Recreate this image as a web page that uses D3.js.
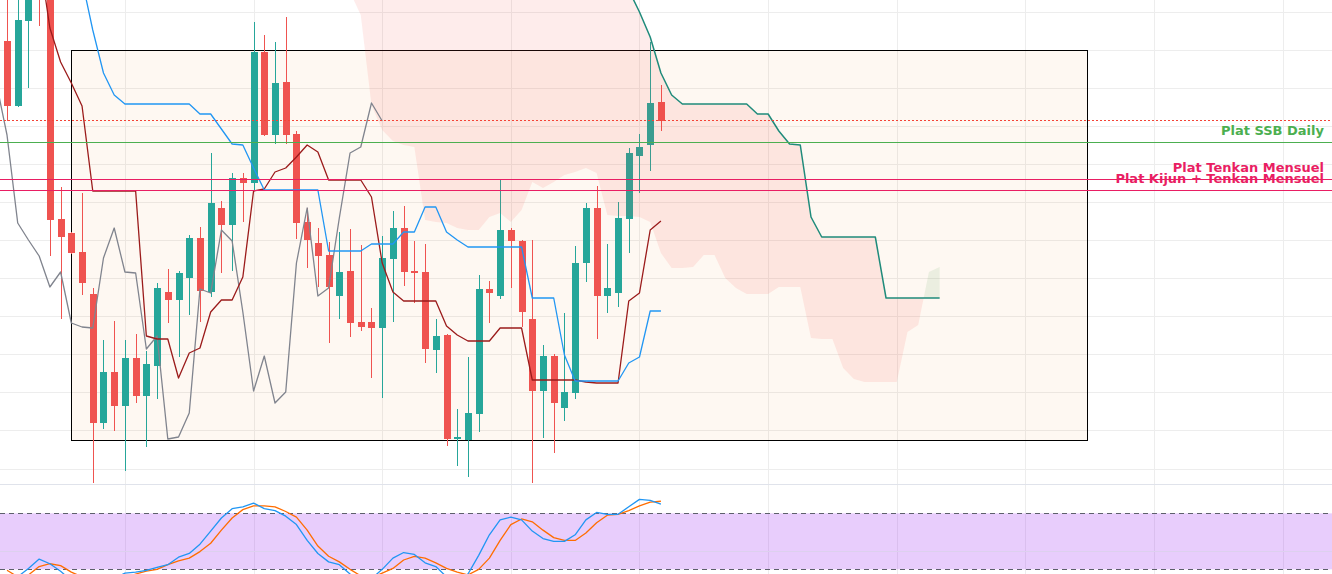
<!DOCTYPE html>
<html>
<head>
<meta charset="utf-8">
<script src="https://cdn.jsdelivr.net/npm/d3@7"></script>
<style>
  body { margin: 0; background: #fff; overflow: hidden; }
</style>
</head>
<body>
<svg id="chart" width="1332" height="574"></svg>
<script>
// price bars, bar index 0 = first bar on screen
const opens  = [459,394,479,515,505,281,267,248,206,77,128,94,142,104,134,208,200,222,262,208,292,275,322,317,448,365,418,366,278,257,245,204,229,178,178,172,241,272,229,228,150,165,61,60,86,211,204,270,259,181,109,144,92,107,237,292,204,207,281,344,355,398];
const highs  = [515,510,520,525,512,313,268,307,212,160,179,160,166,149,217,231,229,265,273,347,299,327,327,478,465,458,483,369,292,272,258,268,271,255,192,264,289,294,259,256,181,166,91,143,225,219,320,272,260,260,155,146,187,254,297,314,256,298,352,366,458,415];
const lows   = [379,393,412,474,244,181,246,205,17,71,69,29,97,53,101,177,143,185,178,203,227,229,278,310,364,356,356,261,232,213,157,181,163,169,122,102,178,214,197,137,127,54,34,23,68,177,201,212,173,17,62,47,79,101,218,161,187,193,247,307,329,369];
const closes = [394,480,508,505,280,263,247,217,77,128,94,142,104,136,212,200,227,262,209,297,275,322,317,448,365,417,365,277,260,244,213,228,177,173,172,242,272,228,227,151,164,61,63,87,211,207,270,259,188,109,144,97,108,237,292,204,212,282,347,353,397,379];

// ichimoku
const kijun = [null,null,null,null,null,null,null,
  520,470,427,405,396,396,396,396,396,396,396,386,386,371,356,355,332,
  310,310,310,310,310,310,249,249,249,249,256,256,256,268,268,293,293,268,260,
  253,253,253,253,253,253,202,202,202,145,119,119,119,119,119,137,143,189,189];
const tenkan = [null,null,null,
  545,472,438,417,394,309,309,309,309,309,164,161,161,122,147,152,188,200,200,223,
  309,311,328,332,343,355,348,320,320,320,320,303,237,208,199,199,199,199,174,165,
  159,159,159,172,172,172,120,120,120,120,120,118,117,117,117,199,207,270,279];
const chikouShift = 26;
const cloudStart = 31;
const spanA = [540,508,485,395,370,359,355,353,280,278,277,272,270,270,283,287,278,290,318,312,318,325,328,332,327,
  285,284,284,283,278,247,232,232,233,245,245,222,212,206,206,206,213,213,213,162,161,161,132,121,118,118,118,118,168,175,228,233];
const spanB = [580,580,580,580,580,580,580,580,580,580,580,580,580,580,580,580,580,580,580,580,580,580,580,580,580,
  560,540,510,488,463,427,405,396,396,396,396,396,396,396,386,386,369,356,355,283,263,263,263,263,263,263,202,202,202,202,202,202];

// stochastic
const stochK = [8,12,21,31,26,18,8,5,3,5,10,16,17,19,22,25,33,37,47,61,75,85,87,91,85,83,77,68,51,37,28,25,15,8,10,20,32,38,36,27,23,12,5,15,35,57,73,76,73,61,53,50,50,57,73,81,79,79,87,95,94,90];
const stochD = [19,12,14,23,26,24,17,12,7,5,6,10,15,18,20,25,29,32,39,48,62,75,84,88,88,87,82,76,62,45,34,28,20,13,11,16,21,30,34,32,27,21,17,14,20,32,51,68,74,71,62,54,51,51,59,70,78,79,83,88,92,93];
const stochBand = [20, 80];
const stochGrid = [40];

// drawings
const hLines = [
  { price: 380, color: "#f44336", dash: "1.5,2.5", label: "" },
  { price: 358, color: "#4caf50", dash: null, label: "Plat SSB Daily" },
  { price: 321, color: "#e91e63", dash: null, label: "Plat Tenkan Mensuel" },
  { price: 310, color: "#e91e63", dash: null, label: "Plat Kijun + Tenkan Mensuel" }
];
const boxBars = [6, 100.8];
const boxPrices = [450, 60];

const priceGrid = [488,450,412,374,336,298,260,222,184,146,108,70,31];
const timeGrid = [11,23,35,47,59,71,83,95,107,119];

const WIDTH = 1332, HEIGHT = 574, MAIN_H = 484;

const xScale = d3.scaleLinear().domain([0, 100]).range([7, 1079]);
const yScale = d3.scaleLinear().domain([16, 500]).range([MAIN_H, 0]);
const sScale = d3.scaleLinear().domain([0, 100]).range([588, 494.7]);

const svg = d3.select("#chart");
const defs = svg.append("defs");
defs.append("clipPath").attr("id", "clipMain")
  .append("rect").attr("x", 0).attr("y", 0).attr("width", WIDTH).attr("height", MAIN_H);
defs.append("clipPath").attr("id", "clipStoch")
  .append("rect").attr("x", 0).attr("y", MAIN_H + 1).attr("width", WIDTH).attr("height", HEIGHT - MAIN_H);

// grid
const grid = svg.append("g").attr("shape-rendering", "crispEdges");
grid.selectAll("line.v").data(timeGrid).join("line")
  .attr("x1", d => Math.round(xScale(d)) + 0.5)
  .attr("x2", d => Math.round(xScale(d)) + 0.5)
  .attr("y1", 0).attr("y2", HEIGHT)
  .attr("stroke", "#ededed");
grid.selectAll("line.h").data(priceGrid).join("line")
  .attr("x1", 0).attr("x2", WIDTH)
  .attr("y1", d => Math.round(yScale(d)) + 0.5)
  .attr("y2", d => Math.round(yScale(d)) + 0.5)
  .attr("stroke", "#ededed");

const main = svg.append("g").attr("clip-path", "url(#clipMain)");

// rectangle drawing
main.append("rect")
  .attr("x", Math.round(xScale(boxBars[0])) + 0.5)
  .attr("y", Math.round(yScale(boxPrices[0])) + 0.5)
  .attr("width", Math.round(xScale(boxBars[1]) - xScale(boxBars[0])))
  .attr("height", Math.round(yScale(boxPrices[1]) - yScale(boxPrices[0])))
  .attr("fill", "rgba(245,124,0,0.05)")
  .attr("stroke", "#000")
  .attr("stroke-width", 1);

// candles
const candles = opens.map((o, i) => ({ i, o, h: highs[i], l: lows[i], c: closes[i] }));
const cg = main.append("g").attr("shape-rendering", "crispEdges");
const colorOf = d => d.c >= d.o ? "#26a69a" : "#ef5350";
cg.selectAll("line").data(candles).join("line")
  .attr("x1", d => Math.round(xScale(d.i)) + 0.5)
  .attr("x2", d => Math.round(xScale(d.i)) + 0.5)
  .attr("y1", d => yScale(d.h))
  .attr("y2", d => yScale(d.l))
  .attr("stroke", colorOf);
cg.selectAll("rect").data(candles).join("rect")
  .attr("x", d => Math.round(xScale(d.i)) - 3)
  .attr("width", 7)
  .attr("y", d => yScale(Math.max(d.o, d.c)))
  .attr("height", d => Math.max(1, Math.abs(yScale(d.o) - yScale(d.c))))
  .attr("fill", colorOf);

// cloud, with crossing points added so both fills meet exactly
const cloud = spanA.map((a, k) => ({ i: cloudStart + k, a, b: spanB[k] }));
const cloudPts = [];
cloud.forEach((d, k) => {
  if (k > 0) {
    const p = cloud[k - 1];
    const d0 = p.a - p.b, d1 = d.a - d.b;
    if (d0 * d1 < 0) {
      const t = d0 / (d0 - d1);
      const v = p.a + t * (d.a - p.a);
      cloudPts.push({ i: p.i + t, a: v, b: v });
    }
  }
  cloudPts.push(d);
});
main.append("path")
  .datum(cloudPts)
  .attr("fill", "rgba(244,67,54,0.1)")
  .attr("d", d3.area()
    .x(d => xScale(d.i))
    .y0(d => yScale(d.a))
    .y1(d => yScale(Math.max(d.a, d.b))));
main.append("path")
  .datum(cloudPts)
  .attr("fill", "rgba(67,160,71,0.1)")
  .attr("d", d3.area()
    .x(d => xScale(d.i))
    .y0(d => yScale(d.b))
    .y1(d => yScale(Math.max(d.a, d.b))));

// indicator lines
const line = d3.line()
  .defined(d => d.v != null)
  .x(d => xScale(d.i))
  .y(d => yScale(d.v));
const series = [
  { pts: closes.map((v, i) => ({ i: i - chikouShift, v })), color: "#80848e", w: 1.3 },
  { pts: tenkan.map((v, i) => ({ i, v })), color: "#9b1b1b", w: 1.3 },
  { pts: kijun.map((v, i) => ({ i, v })), color: "#2196f3", w: 1.3 },
  { pts: spanB.map((v, k) => ({ i: cloudStart + k, v })), color: "#1f8b7b", w: 1.5 }
];
series.forEach(s => {
  main.append("path")
    .datum(s.pts)
    .attr("fill", "none")
    .attr("stroke", s.color)
    .attr("stroke-width", s.w)
    .attr("stroke-linejoin", "round")
    .attr("d", line);
});

// horizontal lines and their labels
const hg = main.append("g");
hg.selectAll("line").data(hLines).join("line")
  .attr("x1", 0).attr("x2", WIDTH)
  .attr("y1", d => Math.round(yScale(d.price)) + 0.5)
  .attr("y2", d => Math.round(yScale(d.price)) + 0.5)
  .attr("stroke", d => d.color)
  .attr("stroke-dasharray", d => d.dash)
  .attr("shape-rendering", "crispEdges");
hg.selectAll("text").data(hLines.filter(d => d.label)).join("text")
  .text(d => d.label)
  .attr("x", 1324)
  .attr("y", d => yScale(d.price) - 7)
  .attr("text-anchor", "end")
  .attr("fill", d => d.color)
  .attr("font-family", "'DejaVu Sans', Verdana, sans-serif")
  .attr("font-weight", "bold")
  .attr("font-size", "13px");

// pane separator
svg.append("line")
  .attr("x1", 0).attr("x2", WIDTH)
  .attr("y1", MAIN_H + 0.5).attr("y2", MAIN_H + 0.5)
  .attr("stroke", "#e0e3eb");

// stochastic pane
const sg = svg.append("g").attr("clip-path", "url(#clipStoch)");
sg.append("rect")
  .attr("x", 0).attr("width", WIDTH)
  .attr("y", sScale(stochBand[1]))
  .attr("height", sScale(stochBand[0]) - sScale(stochBand[1]))
  .attr("fill", "rgba(163,57,245,0.25)");
sg.selectAll("line.grid").data(stochGrid).join("line")
  .attr("x1", 0).attr("x2", WIDTH)
  .attr("y1", d => Math.round(sScale(d)) + 0.5)
  .attr("y2", d => Math.round(sScale(d)) + 0.5)
  .attr("stroke", "#ddd0ee");
sg.selectAll("line.band").data(stochBand).join("line")
  .attr("x1", 0).attr("x2", WIDTH)
  .attr("y1", d => Math.round(sScale(d)) + 0.5)
  .attr("y2", d => Math.round(sScale(d)) + 0.5)
  .attr("stroke", "#5d606b")
  .attr("stroke-dasharray", "5,4");

const sLine = d3.line().x((d, i) => xScale(i)).y(d => sScale(d));
[[stochD, "#ff6d00"], [stochK, "#2196f3"]].forEach(([vals, color]) => {
  sg.append("path")
    .datum(vals)
    .attr("fill", "none")
    .attr("stroke", color)
    .attr("stroke-width", 1.3)
    .attr("stroke-linejoin", "round")
    .attr("d", sLine);
});
</script>
</body>
</html>
